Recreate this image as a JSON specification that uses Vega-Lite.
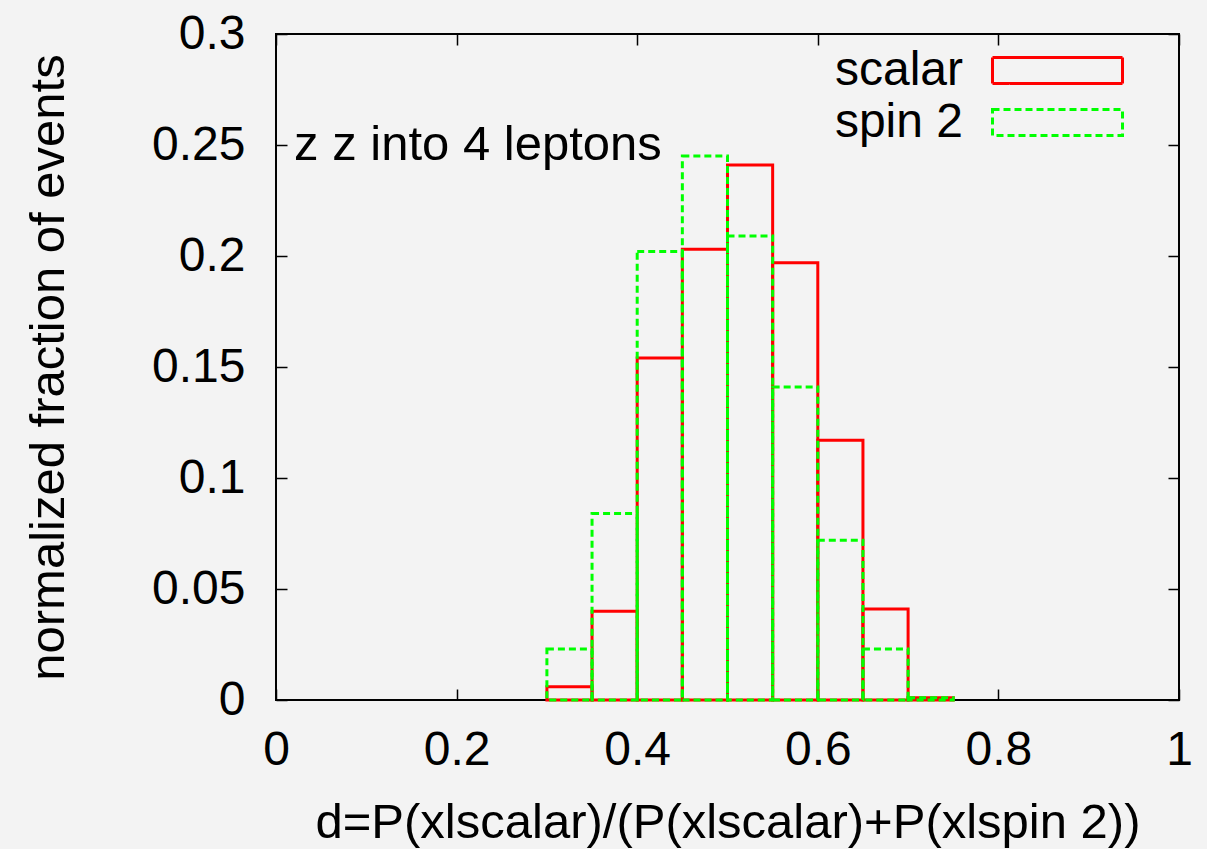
{
  "$schema": "https://vega.github.io/schema/vega-lite/v6.json",
  "width": 903,
  "height": 666,
  "autosize": {"type": "none"},
  "padding": {"left": 276, "top": 34, "right": 28, "bottom": 149},
  "background": "#f3f3f3",
  "config": {
    "font": "Liberation Sans",
    "view": {"stroke": "#000000", "strokeWidth": 2},
    "axis": {
      "domain": false,
      "ticks": false,
      "grid": true,
      "gridColor": "#000000",
      "gridOpacity": 1,
      "gridWidth": 1.5,
      "labelFont": "Liberation Sans",
      "labelFontSize": 48,
      "labelColor": "#000000",
      "titleFont": "Liberation Sans",
      "titleFontSize": 49,
      "titleFontWeight": "normal",
      "titleColor": "#000000"
    },
    "legend": {
      "labelFont": "Liberation Sans",
      "labelFontSize": 48,
      "labelColor": "#000000"
    }
  },
  "datasets": {
    "hist": [
      {"series": "scalar", "start": 0.30, "end": 0.35, "fraction": 0.006},
      {"series": "scalar", "start": 0.35, "end": 0.40, "fraction": 0.040},
      {"series": "scalar", "start": 0.40, "end": 0.45, "fraction": 0.154},
      {"series": "scalar", "start": 0.45, "end": 0.50, "fraction": 0.203},
      {"series": "scalar", "start": 0.50, "end": 0.55, "fraction": 0.241},
      {"series": "scalar", "start": 0.55, "end": 0.60, "fraction": 0.197},
      {"series": "scalar", "start": 0.60, "end": 0.65, "fraction": 0.117},
      {"series": "scalar", "start": 0.65, "end": 0.70, "fraction": 0.041},
      {"series": "scalar", "start": 0.70, "end": 0.75, "fraction": 0.001},
      {"series": "spin 2", "start": 0.30, "end": 0.35, "fraction": 0.023},
      {"series": "spin 2", "start": 0.35, "end": 0.40, "fraction": 0.084},
      {"series": "spin 2", "start": 0.40, "end": 0.45, "fraction": 0.202},
      {"series": "spin 2", "start": 0.45, "end": 0.50, "fraction": 0.245},
      {"series": "spin 2", "start": 0.50, "end": 0.55, "fraction": 0.209},
      {"series": "spin 2", "start": 0.55, "end": 0.60, "fraction": 0.141},
      {"series": "spin 2", "start": 0.60, "end": 0.65, "fraction": 0.072},
      {"series": "spin 2", "start": 0.65, "end": 0.70, "fraction": 0.023},
      {"series": "spin 2", "start": 0.70, "end": 0.75, "fraction": 0.001}
    ],
    "note": [{"label": "z z into 4 leptons"}]
  },
  "layer": [
    {
      "data": {"name": "hist"},
      "transform": [{"filter": "datum.series === 'scalar'"}],
      "mark": {"type": "rect", "filled": false, "strokeWidth": 3},
      "encoding": {
        "x": {
          "field": "start",
          "type": "quantitative",
          "scale": {"domain": [0, 1], "nice": false, "zero": false},
          "axis": {
            "values": [0, 0.2, 0.4, 0.6, 0.8, 1],
            "format": "~g",
            "labelPadding": 26,
            "labelFlush": false,
            "gridDash": [11, 644],
            "title": "d=P(xlscalar)/(P(xlscalar)+P(xlspin 2))",
            "titleY": 137,
            "titleBaseline": "alphabetic"
          }
        },
        "x2": {"field": "end"},
        "y": {
          "field": "fraction",
          "type": "quantitative",
          "scale": {"domain": [0, 0.3], "nice": false},
          "axis": {
            "values": [0, 0.05, 0.1, 0.15, 0.2, 0.25, 0.3],
            "format": "~g",
            "labelPadding": 31,
            "labelFlush": false,
            "gridDash": [11, 881],
            "title": "normalized fraction of events",
            "titleX": -213,
            "titleY": 333,
            "titleAngle": -90,
            "titleAlign": "center",
            "titleBaseline": "alphabetic"
          }
        },
        "y2": {"datum": 0},
        "stroke": {
          "field": "series",
          "type": "nominal",
          "scale": {"domain": ["scalar", "spin 2"], "range": ["#ff0000", "#00ff00"]},
          "legend": {
            "title": null,
            "orient": "none",
            "legendX": 754,
            "legendY": 9,
            "padding": 0,
            "symbolType": "M-2.5,-0.5H2.5V0.5H-2.5Z",
            "symbolSize": 2704,
            "symbolStrokeWidth": 3,
            "symbolFillColor": "transparent",
            "labelAlign": "right",
            "labelOffset": -122,
            "rowPadding": -3,
            "encode": {
              "symbols": {
                "update": {
                  "strokeDash": {"signal": "datum.value === 'spin 2' ? [7, 4] : [1, 0]"}
                }
              }
            }
          }
        }
      }
    },
    {
      "data": {"name": "hist"},
      "transform": [{"filter": "datum.series === 'spin 2'"}],
      "mark": {"type": "rect", "filled": false, "strokeWidth": 3, "strokeDash": [7, 4]},
      "encoding": {
        "x": {"field": "start", "type": "quantitative"},
        "x2": {"field": "end"},
        "y": {"field": "fraction", "type": "quantitative"},
        "y2": {"datum": 0},
        "stroke": {"field": "series", "type": "nominal"}
      }
    },
    {
      "data": {"name": "note"},
      "mark": {"type": "text", "font": "Liberation Sans", "fontSize": 49, "align": "left", "baseline": "middle", "color": "#000000"},
      "encoding": {
        "x": {"datum": 0.02},
        "y": {"datum": 0.25},
        "text": {"field": "label"}
      }
    }
  ]
}
